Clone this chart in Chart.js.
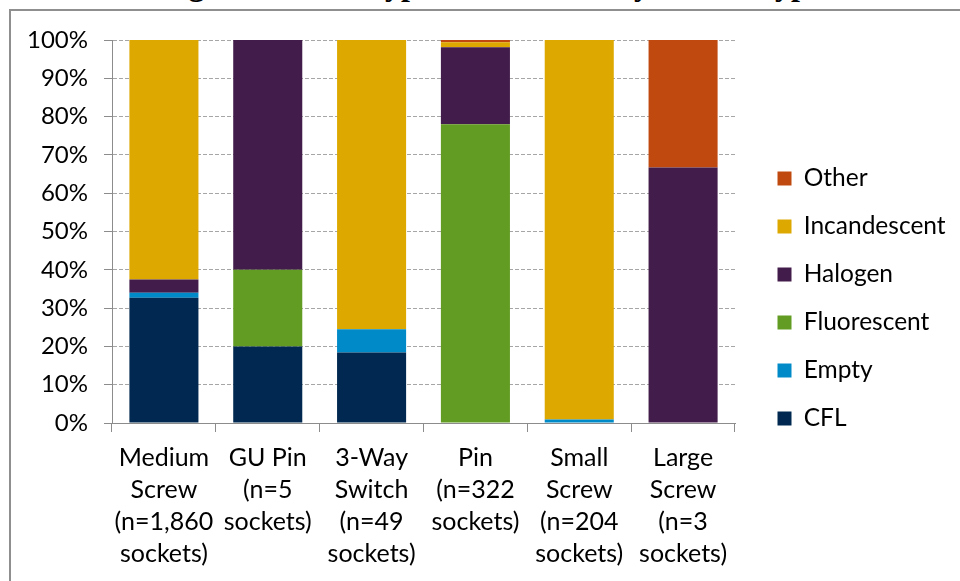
<!DOCTYPE html>
<html>
<head>
<meta charset="utf-8">
<script src="https://cdn.jsdelivr.net/npm/chart.js@4/dist/chart.umd.min.js"></script>
<style>
  html, body { margin: 0; padding: 0; background: #fff; overflow: hidden; }
  #wrap { position: relative; width: 960px; height: 581px; }
  #title {
    position: absolute; left: 160px; top: -32px; white-space: nowrap;
    font: bold 32px "Liberation Serif", "Times New Roman", serif; line-height: 32px; color: #000;
  }
  #frame {
    position: absolute; left: 9px; top: 9px; width: 980px; height: 600px;
    border-left: 2px solid #8f8f8f; border-top: 2px solid #8f8f8f;
  }
  #chart { position: absolute; left: 0; top: 0; }
</style>
</head>
<body>
<div id="wrap">
  <div id="title">Figure 5: Bulb Type Distribution by Socket Type</div>
  <div id="frame"></div>
  <canvas id="chart" width="960" height="581"></canvas>
</div>
<script>
// Socket types (multi-line axis labels)
const categories = [
  ['Medium', 'Screw', '(n=1,860', 'sockets)'],
  ['GU Pin', '(n=5', 'sockets)'],
  ['3-Way', 'Switch', '(n=49', 'sockets)'],
  ['Pin', '(n=322', 'sockets)'],
  ['Small', 'Screw', '(n=204', 'sockets)'],
  ['Large', 'Screw', '(n=3', 'sockets)']
];

// Share of sockets (%) holding each bulb type
const cfl          = [32.7, 20.0, 18.4,  0.0,  0.0,  0.0];
const empty        = [ 1.3,  0.0,  6.1,  0.0,  0.9,  0.0];
const fluorescent  = [ 0.0, 20.0,  0.0, 78.0,  0.0,  0.0];
const halogen      = [ 3.5, 60.0,  0.0, 20.1,  0.0, 66.7];
const incandescent = [62.5,  0.0, 75.5,  1.3, 99.1,  0.0];
const other        = [ 0.0,  0.0,  0.0,  0.6,  0.0, 33.3];

const yTicks = [0, 10, 20, 30, 40, 50, 60, 70, 80, 90, 100];

const FONT = 'Lato, "Liberation Sans", sans-serif';
const AXIS_GREY = '#8c8c8c';

// Fixed legend column width, inset of its entries and vertical nudge
const LEGEND_W = 225;
const LEGEND_SHIFT_X = 19;
const LEGEND_SHIFT_Y = -12;
const legendSpacing = {
  id: 'legendSpacing',
  beforeLayout(chart) {
    const lg = chart.legend;
    if (lg && !lg.__fixedWidth) {
      const fit = lg.fit;
      lg.fit = function () { fit.call(this); this.width = LEGEND_W; };
      lg.__fixedWidth = true;
    }
  },
  afterLayout(chart) {
    const lg = chart.legend;
    if (!lg) return;
    lg.left += LEGEND_SHIFT_X;
    lg.top += LEGEND_SHIFT_Y;
    lg.bottom += LEGEND_SHIFT_Y;
  }
};

const series = [
  ['CFL', cfl, '#002850'],
  ['Empty', empty, '#008ac8'],
  ['Fluorescent', fluorescent, '#629c22'],
  ['Halogen', halogen, '#421c4a'],
  ['Incandescent', incandescent, '#dda900'],
  ['Other', other, '#c0490f']
];

new Chart(document.getElementById('chart'), {
  type: 'bar',
  data: {
    labels: categories,
    datasets: series.map(([label, data, color]) => ({
      label, data,
      backgroundColor: color,
      borderWidth: 0,
      barPercentage: 0.665,
      categoryPercentage: 1.0
    }))
  },
  plugins: [legendSpacing],
  options: {
    responsive: false,
    animation: false,
    events: [],
    layout: { padding: { left: 0, top: 40, right: 0, bottom: 0 } },
    plugins: {
      title: { display: false },
      tooltip: { enabled: false },
      legend: {
        position: 'right',
        reverse: true,
        labels: {
          boxWidth: 14,
          boxHeight: 14,
          padding: 23.5,
          color: '#000',
          font: { family: FONT, size: 24.5 }
        }
      }
    },
    scales: {
      x: {
        stacked: true,
        offset: true,
        afterFit: s => { s.height = 158; },
        grid: { drawOnChartArea: false, drawTicks: true, offset: true, tickLength: 9, color: AXIS_GREY },
        border: { display: true, color: AXIS_GREY, width: 1 },
        ticks: {
          color: '#000', padding: 10, maxRotation: 0, autoSkip: false,
          font: { family: FONT, size: 25, lineHeight: '32px' }
        }
      },
      y: {
        stacked: true,
        min: 0, max: 100,
        afterFit: s => { s.width = 112; },
        afterBuildTicks: s => { s.ticks = yTicks.map(v => ({ value: v })); },
        grid: { color: '#a6a6a6', tickColor: AXIS_GREY, tickLength: 8 },
        border: { display: true, color: AXIS_GREY, width: 1, dash: [4, 2] },
        ticks: {
          color: '#000', padding: 16,
          font: { family: FONT, size: 24 },
          callback: v => v + '%'
        }
      }
    }
  }
});
</script>
</body>
</html>
